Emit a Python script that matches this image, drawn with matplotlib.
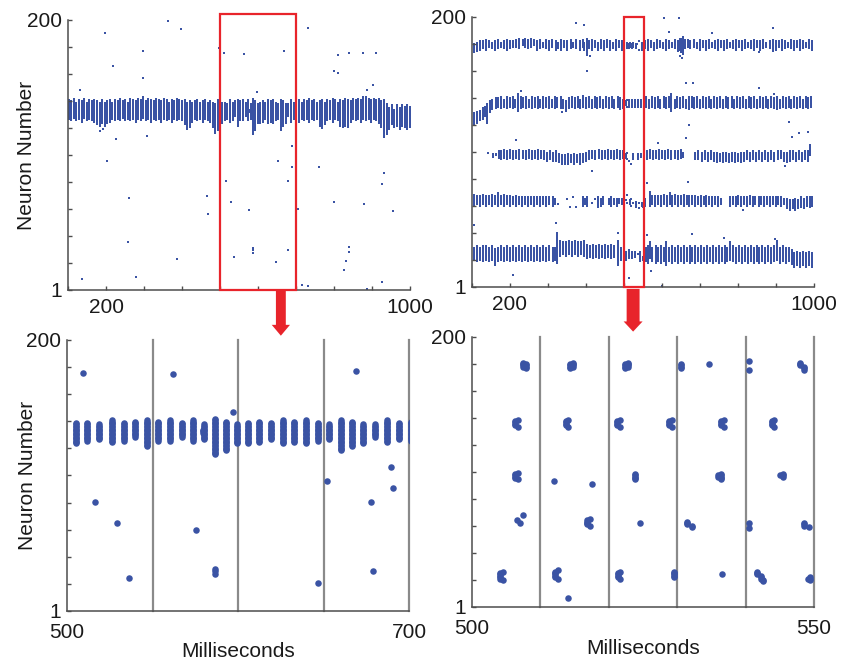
import numpy as np
import matplotlib.pyplot as plt
from matplotlib.patches import Rectangle, FancyArrow

plt.rcParams['font.family'] = ['Liberation Sans', 'DejaVu Sans']

BLUE = '#3a53a4'
RED = '#e8242b'
AXIS = '#4d4d4d'
GRID = '#8a8a8a'

# left network: population bursts (time ms, lowest neuron, highest neuron)
left_bursts = [
    (101.5, 127, 141), (108.3, 126, 140), (115.0, 128, 142), (121.9, 126, 139), (128.6, 127, 141),
    (135.6, 125, 140), (142.3, 128, 142), (149.0, 126, 139), (155.9, 127, 141), (162.5, 126, 140),
    (169.4, 125, 141), (176.0, 123, 140), (182.9, 122, 139), (189.8, 124, 141), (196.4, 122, 139),
    (203.3, 124, 140), (210.0, 125, 141), (216.9, 127, 139), (223.5, 126, 141), (230.4, 127, 140),
    (237.0, 126, 142), (243.9, 128, 140), (250.7, 126, 141), (257.4, 127, 139), (264.2, 126, 142),
    (271.0, 127, 141), (277.8, 125, 140), (284.5, 127, 142), (291.4, 126, 141), (298.1, 128, 143),
    (305.0, 126, 140), (311.7, 127, 142), (318.5, 125, 141), (325.3, 127, 140), (332.0, 126, 142),
    (338.9, 127, 141), (345.6, 125, 140), (352.4, 127, 142), (359.1, 126, 141), (366.0, 127, 139),
    (372.7, 125, 141), (379.5, 127, 140), (386.2, 126, 142), (393.1, 127, 141), (399.8, 126, 140),
    (406.6, 123, 141), (413.4, 120, 139), (420.1, 121, 140), (427.0, 125, 139), (433.7, 127, 140),
    (440.5, 126, 141), (447.2, 127, 139), (454.1, 125, 140), (460.8, 127, 141), (467.6, 126, 139),
    (474.5, 125, 140), (481.2, 121, 139), (488.0, 118, 138), (494.8, 119, 141),
    (505.1, 124, 139), (511.9, 126, 139), (518.9, 127, 138), (526.1, 125, 141), (533.2, 126, 139),
    (539.8, 129, 140), (546.6, 122, 141), (553.4, 126, 140), (560.2, 126, 141), (567.1, 129, 139),
    (573.9, 126, 141), (579.3, 132, 134), (580.3, 127, 138), (586.5, 116, 142), (593.0, 119, 140),
    (599.2, 124, 138), (606.0, 124, 139), (612.5, 125, 140), (619.3, 127, 139), (626.5, 124, 141),
    (632.9, 125, 140), (639.8, 124, 141), (646.6, 126, 139), (653.4, 127, 138), (660.2, 119, 141),
    (666.8, 122, 140), (673.3, 124, 138), (680.1, 129, 138), (687.3, 125, 141), (694.2, 127, 139),
    (701.0, 126, 140), (707.8, 125, 141), (714.5, 127, 139), (721.4, 126, 141), (728.1, 127, 140),
    (735.0, 125, 142), (741.7, 127, 140), (748.5, 126, 141), (755.3, 127, 139), (762.0, 122, 140),
    (768.9, 121, 141), (775.6, 123, 139), (782.4, 126, 141), (789.2, 127, 140), (796.0, 125, 142),
    (802.7, 127, 141), (809.5, 126, 139), (816.4, 122, 141), (823.1, 121, 140), (829.9, 122, 142),
    (836.7, 121, 141), (843.4, 125, 140), (850.2, 127, 142), (857.0, 126, 141), (863.8, 127, 142),
    (870.5, 125, 141), (877.3, 127, 143), (884.1, 126, 143), (890.9, 127, 142), (897.6, 125, 141),
    (904.4, 127, 142), (911.2, 126, 141), (918.0, 124, 142), (924.8, 121, 140), (931.5, 114, 141),
    (938.3, 116, 138), (945.1, 120, 135), (951.9, 123, 137), (958.6, 121, 134), (965.4, 122, 137),
    (972.2, 120, 135), (979.0, 122, 137), (985.8, 121, 136), (992.5, 120, 137), (998.8, 121, 136),
]

# left network: isolated spikes (time ms, neuron)
left_spikes = [
    (130.7, 148.4), (136, 8.8), (183.4, 118.4), (192.2, 119.4), (197, 190.2), (203.6, 96.3),
    (218.5, 166.3), (225.5, 112.5), (258, 36.6), (259.8, 68.6), (280, 10.8), (297.5, 177),
    (297.5, 157), (307, 114.5), (363, 199), (388, 23.8), (398.5, 193), (464.4, 70.5),
    (468.7, 56.8), (486.3, 116.5), (497.7, 179.6),
    (509.5, 175.5), (516.4, 81.1), (529.1, 65.7), (536.3, 25.5), (562.2, 174.8), (575.3, 60.3),
    (586.5, 32.1), (586.5, 30.2), (586.5, 28.4), (596.9, 146.8), (647, 21.6), (651.9, 96.1),
    (669, 177.5), (677.6, 81.1), (679.2, 30.4), (689.5, 106.9), (690.5, 91.4),
    (704, 60.4), (714.6, 4.7), (730.4, 194), (730.4, 4), (761, 91.4), (769, 120.4),
    (799.7, 65.8), (800.6, 162.4), (809.4, 161.2), (811, 174.2), (826, 15.7), (831.3, 22.6),
    (839.3, 33), (839.3, 28.8), (839.3, 175.4), (877, 175.4), (878.8, 64.4), (887.5, 148.4),
    (887.5, 2), (903.4, 152), (909.5, 175.4), (925.3, 79), (925.3, 7), (931.4, 87), (956, 59.5),
]

# right network: five groups that fire one after the other
right_group1 = [
    (98, 173, 179), (106, 174, 180), (113, 175, 181), (121, 176, 182), (129, 177, 182),
    (137, 176, 183), (145, 178, 182), (152, 177, 181), (160, 176, 182), (168, 177, 183),
    (177, 178, 181), (184, 177, 182), (192, 176, 183), (200, 177, 182), (209, 178, 182),
    (216, 178, 183), (224, 177, 184), (233, 179, 183), (240, 178, 184), (248, 177, 183),
    (256, 178, 184), (264, 179, 183), (272, 176, 182), (279, 177, 183), (287, 178, 181),
    (296, 177, 183), (303, 176, 182), (311, 178, 183), (320, 176, 182), (327, 177, 181),
    (335, 176, 183), (343, 178, 182), (351, 176, 182), (360, 177, 183), (367, 178, 181),
    (375, 177, 183), (384, 176, 182), (391, 178, 183), (396, 176, 181), (402, 172, 184),
    (408, 177, 182), (416, 176, 183), (424, 178, 182), (431, 176, 181), (439, 177, 183),
    (448, 176, 182), (455, 178, 183), (463, 176, 182), (471, 177, 181), (479, 176, 183),
    (487, 178, 182), (494, 176, 182),
    (507.4, 178, 181), (507.9, 177, 180), (514.3, 177, 180), (514.7, 178, 181), (522.4, 177, 180),
    (522.8, 178, 181), (530.6, 177, 180), (534.6, 180, 180), (540.5, 182, 182), (540.5, 176, 176),
    (547.9, 179, 181), (548.6, 176, 178),
    (556, 177, 182), (564, 176, 183), (571, 178, 182), (579, 176, 181), (587, 177, 183),
    (595, 178, 182), (603, 177, 181), (611, 176, 183), (619, 177, 182), (627, 178, 181),
    (635, 177, 183), (641, 175, 182), (647, 176, 184), (651, 174, 184), (655, 173, 185),
    (661, 177, 183), (668, 178, 183), (675, 177, 182), (683, 178, 183), (691, 177, 181),
    (699, 176, 183), (707, 178, 182), (715, 176, 182), (723, 177, 183), (731, 178, 181),
    (739, 177, 182), (747, 176, 183), (755, 178, 182), (763, 176, 182), (771, 177, 183),
    (779, 178, 181), (787, 177, 182), (795, 176, 183), (803, 178, 182), (811, 176, 182),
    (819, 177, 183), (827, 178, 181), (835, 177, 182), (843, 176, 183), (851, 178, 182),
    (859, 176, 182), (867, 177, 183), (875, 178, 181), (883, 177, 182), (891, 175, 183),
    (899, 176, 182), (907, 178, 182), (915, 176, 183), (923, 177, 182), (931, 178, 181),
    (939, 177, 183), (947, 176, 182), (955, 178, 182), (963, 176, 183), (971, 177, 182),
    (979, 178, 181), (987, 177, 183), (995, 176, 182),
]
right_group2 = [
    (98, 120, 127), (105, 121, 129), (113, 122, 130), (120, 124, 131), (128, 125, 133),
    (135, 127, 134), (140, 122, 136), (147, 130, 138), (154, 132, 139), (162, 133, 140),
    (169, 134, 140), (177, 133, 141), (184, 134, 139), (192, 133, 141), (199, 134, 140),
    (207, 133, 141), (214, 134, 139), (220, 131, 143), (228, 133, 141), (235, 134, 140),
    (243, 133, 141), (250, 134, 139), (258, 133, 141), (265, 134, 140), (273, 133, 141),
    (280, 134, 139), (288, 133, 141), (295, 134, 140), (303, 133, 141), (310, 134, 139),
    (318, 133, 141), (325, 134, 140), (333, 133, 141), (340, 133, 139), (348, 131, 138),
    (355, 133, 140), (363, 134, 141), (370, 133, 140), (378, 134, 141), (385, 133, 139),
    (393, 134, 142), (400, 133, 140), (408, 134, 141), (415, 133, 139), (423, 134, 141),
    (430, 133, 140), (438, 134, 141), (445, 133, 139), (453, 134, 141), (460, 133, 140),
    (468, 134, 141), (475, 133, 139), (483, 134, 141), (490, 132, 140), (498, 133, 139),
    (506.3, 135, 138), (506.7, 134, 134), (506.7, 139, 139), (513.7, 135, 138), (514.1, 134, 134),
    (514.1, 139, 139), (521.2, 135, 138), (521.6, 134, 134), (521.6, 139, 139), (528.8, 135, 138),
    (529.2, 134, 134), (529.2, 139, 139), (536.4, 135, 138), (536.8, 134, 134), (536.8, 139, 139),
    (543.8, 135, 138), (544.2, 134, 134), (544.2, 139, 139),
    (552, 133, 140), (559, 134, 141), (566, 133, 139), (574, 134, 141), (581, 133, 140),
    (589, 134, 141), (596, 133, 139), (604, 134, 141), (611, 133, 140), (619, 134, 141),
    (625, 131, 143), (633, 133, 139), (640, 134, 141), (648, 133, 140), (655, 134, 141),
    (663, 133, 139), (670, 132, 141), (678, 134, 141), (685, 133, 140), (693, 134, 141),
    (700, 133, 139), (708, 134, 141), (715, 133, 140), (723, 134, 141), (730, 133, 139),
    (738, 134, 141), (745, 133, 140), (753, 134, 141), (760, 133, 139), (768, 134, 141),
    (775, 133, 140), (783, 134, 141), (790, 133, 139), (798, 134, 141), (805, 133, 140),
    (813, 134, 141), (820, 133, 139), (828, 134, 141), (835, 133, 140), (843, 134, 141),
    (850, 133, 139), (858, 134, 141), (865, 133, 140), (873, 134, 141), (880, 133, 139),
    (888, 134, 141), (895, 133, 140), (903, 132, 141), (910, 133, 139), (918, 134, 141),
    (925, 133, 140), (933, 134, 141), (940, 133, 139), (948, 134, 141), (955, 133, 140),
    (963, 134, 141), (970, 133, 139), (978, 134, 141), (985, 133, 140), (993, 134, 141),
]
right_group3 = [
    (156, 97, 99), (163, 98, 99), (170, 96, 101), (177, 95, 101), (185, 96, 102),
    (193, 95, 101), (201, 96, 102), (209, 95, 101), (217, 96, 101), (225, 95, 102),
    (233, 96, 101), (241, 95, 101), (249, 96, 102), (257, 95, 101), (265, 96, 101),
    (273, 95, 102), (281, 96, 101), (289, 95, 101), (297, 94, 100), (305, 95, 101),
    (313, 94, 100), (321, 94, 101), (329, 93, 99), (337, 92, 98), (345, 92, 98),
    (353, 92, 99), (361, 93, 98), (369, 92, 99), (377, 93, 98), (385, 92, 99),
    (393, 93, 99), (401, 94, 100), (409, 95, 101), (417, 96, 101), (425, 95, 101),
    (433, 96, 102), (441, 95, 101), (449, 96, 101), (457, 95, 102), (465, 96, 101),
    (473, 95, 101), (481, 96, 102), (489, 95, 101), (497, 96, 101),
    (506.3, 96, 99), (506.7, 95, 95), (506.7, 100, 100), (512.0, 94, 94), (517.6, 92, 92),
    (523.8, 95, 99), (536.4, 95, 99), (536.0, 97, 98), (545.4, 97, 99), (545.1, 98, 98),
    (553, 96, 101), (561, 95, 101), (569, 96, 102), (577, 95, 101), (585, 96, 101),
    (593, 95, 102), (601, 96, 101), (609, 95, 101), (617, 96, 102), (625, 95, 101),
    (633, 96, 101), (641, 95, 101), (649, 96, 102), (656, 97, 100),
    (688, 95, 100), (696, 95, 101), (704, 94, 100), (712, 95, 101), (720, 94, 100),
    (728, 95, 101), (736, 94, 100), (744, 93, 100), (752, 94, 99), (760, 93, 100),
    (768, 94, 100), (776, 93, 99), (784, 94, 100), (792, 93, 100), (800, 94, 99),
    (808, 93, 100), (816, 94, 100), (824, 95, 101), (832, 94, 100), (840, 95, 101),
    (848, 94, 100), (856, 95, 101), (864, 94, 100), (872, 95, 101), (880, 94, 100),
    (888, 95, 101), (896, 94, 100), (904, 95, 101), (912, 96, 101), (920, 94, 100),
    (928, 93, 100), (936, 94, 101), (944, 95, 101), (952, 94, 100), (960, 95, 101),
    (968, 94, 100), (976, 95, 101), (983, 94, 101), (990, 98, 106),
]
right_group4 = [
    (98, 62, 68), (105, 61, 69), (113, 62, 68), (121, 61, 68), (129, 62, 69),
    (137, 61, 68), (145, 62, 68), (152, 61, 69), (160, 62, 68), (168, 61, 70),
    (176, 62, 68), (184, 61, 69), (192, 62, 68), (200, 61, 68), (208, 62, 67),
    (216, 61, 68), (224, 62, 67), (232, 61, 67), (240, 62, 67), (248, 61, 67),
    (256, 62, 67), (264, 61, 67), (272, 62, 67), (280, 61, 67), (288, 62, 67),
    (296, 61, 67), (304, 62, 67), (312, 61, 67), (318, 62, 66),
    (327, 62, 62), (349, 66, 66), (358, 60, 60), (365, 67, 67), (374, 60, 60),
    (391, 61, 67), (397, 62, 66), (403, 61, 67), (415, 63, 63), (424, 66, 66),
    (432, 60, 67), (439, 61, 66), (446, 62, 67), (461, 62, 66), (467, 61, 67),
    (474, 62, 66), (481, 61, 66), (488, 63, 66), (495, 62, 66),
    (506.6, 65, 65), (507.0, 63, 63), (507.5, 69, 69), (516.8, 62, 65), (517.2, 61, 61),
    (517.2, 66, 66), (524.6, 63, 63), (531.5, 62, 64), (532.2, 60, 61), (540.5, 63, 63),
    (540.5, 59, 59), (548.5, 61, 63), (549.2, 60, 60),
    (556, 61, 66), (568, 61, 71), (575, 62, 68), (582, 61, 68), (590, 62, 68),
    (597, 61, 68), (605, 62, 69), (612, 61, 68), (620, 62, 70), (627, 61, 68),
    (635, 62, 69), (642, 61, 68), (650, 62, 68), (657, 61, 69), (665, 62, 68),
    (672, 61, 68), (680, 62, 68), (687, 61, 68), (695, 62, 67), (702, 61, 68),
    (710, 62, 67), (717, 61, 68), (725, 62, 67), (732, 61, 67), (740, 62, 67),
    (747, 61, 67), (755, 62, 66), (779, 61, 67), (786, 62, 67), (794, 61, 67),
    (801, 62, 68), (809, 61, 67), (816, 62, 67), (824, 61, 67), (831, 62, 68),
    (839, 61, 67), (846, 62, 67), (854, 61, 67), (861, 62, 67), (869, 61, 67),
    (876, 62, 67), (884, 61, 67), (891, 62, 67), (899, 61, 67), (906, 62, 67),
    (914, 61, 67), (921, 62, 66), (929, 59, 66), (936, 58, 65), (944, 59, 65),
    (951, 58, 66), (959, 59, 65), (966, 60, 67), (974, 59, 66), (981, 61, 67),
    (989, 60, 67), (996, 61, 67),
]
right_group5 = [
    (98, 20, 31), (106, 21, 30), (113, 20, 31), (121, 21, 30), (129, 20, 31),
    (137, 21, 31), (145, 20, 30), (152, 21, 31), (160, 17, 29), (168, 20, 30),
    (176, 21, 31), (184, 20, 30), (192, 21, 31), (200, 20, 30), (208, 21, 31),
    (216, 20, 30), (224, 21, 31), (232, 20, 30), (240, 21, 31), (248, 20, 30),
    (256, 21, 31), (264, 20, 30), (272, 21, 31), (280, 20, 30), (288, 21, 31),
    (296, 20, 30), (304, 21, 31), (312, 20, 30), (318, 21, 30), (325, 19, 41),
    (331, 24, 35), (339, 25, 34), (347, 24, 34), (355, 25, 35), (363, 24, 34),
    (371, 25, 35), (379, 24, 34), (387, 25, 34), (395, 24, 35), (403, 22, 32),
    (411, 23, 31), (419, 22, 32), (427, 23, 31), (435, 22, 32), (443, 23, 31),
    (451, 22, 32), (459, 23, 31), (467, 22, 32), (475, 23, 31), (485, 17, 35),
    (492, 21, 30),
    (504.1, 22, 26), (504.5, 21, 21), (504.5, 27, 27), (512.2, 23, 27), (512.6, 22, 22),
    (512.6, 28, 28), (521.4, 23, 26), (521.7, 22, 22), (521.7, 27, 27), (529.6, 23, 27),
    (536.6, 25, 25), (541.7, 25, 27), (542.2, 22, 24), (542.6, 20, 21), (549.4, 21, 23),
    (549.1, 22, 22),
    (557, 20, 30), (562, 19, 31), (568, 22, 34), (575, 20, 30), (583, 19, 31),
    (590, 20, 30), (598, 19, 31), (605, 20, 30), (611, 17, 34), (619, 20, 30),
    (627, 19, 31), (634, 20, 30), (642, 19, 31), (650, 20, 30), (657, 19, 31),
    (665, 20, 30), (673, 19, 31), (680, 20, 30), (688, 19, 31), (696, 20, 30),
    (703, 19, 31), (711, 20, 30), (719, 19, 31), (726, 20, 30), (734, 19, 31),
    (742, 20, 30), (749, 19, 31), (757, 20, 30), (765, 19, 31), (772, 20, 30),
    (780, 21, 34), (787, 20, 31), (795, 19, 30), (803, 20, 31), (810, 19, 30),
    (818, 20, 31), (826, 19, 30), (833, 20, 31), (841, 19, 30), (849, 20, 31),
    (856, 19, 30), (864, 20, 31), (872, 19, 30), (879, 20, 31), (887, 19, 30),
    (895, 20, 31), (902, 21, 35), (910, 19, 30), (918, 20, 31), (925, 19, 30),
    (933, 20, 30), (941, 18, 28), (948, 16, 26), (956, 17, 27), (964, 16, 26),
    (971, 17, 27), (979, 16, 26), (987, 17, 27), (995, 16, 26),
]
right_spikes = [
    (105.3, 46.7), (143, 100), (207, 10), (215.8, 109), (230, 145.5), (321, 48), (338, 130),
    (373.7, 195.3), (394.8, 194.1), (403.5, 160.3), (410.5, 171.5), (415, 86.5), (483.4, 41),
    (514.1, 7.4), (559.7, 78), (559.7, 39.3), (570, 12.8), (590.4, 107.4), (600.8, 2),
    (605, 199.5), (619.4, 189.2), (645.6, 199), (647.5, 171.5), (652.7, 169.5), (662.4, 151.6),
    (662.4, 110.6), (671, 120.2), (669.3, 78.7), (678, 39.8), (682.5, 151.6), (730.8, 188),
    (763.6, 36.9), (812.4, 57.8), (855.4, 174.4), (855.4, 147.4), (893, 192), (896, 143),
    (897.5, 36.2), (924, 90.4), (934.4, 122.9), (943, 111.8), (961.5, 114.3), (983.5, 115.5),
]

# zoom windows and the cycle marks drawn in them
left_window = (500, 700)
right_window = (500, 552)
left_marks = [550, 600, 650, 700]
right_marks = [510, 520, 530, 540, 550]


def to_points(bursts, singles):
    t, n = [], []
    for bt, lo, hi in bursts:
        for k in range(lo, hi + 1):
            t.append(bt)
            n.append(k)
    for st, sn in singles:
        t.append(st)
        n.append(sn)
    return np.array(t), np.array(n)


left_t, left_n = to_points(left_bursts, left_spikes)
right_t, right_n = to_points(
    right_group1 + right_group2 + right_group3 + right_group4 + right_group5, right_spikes)


def style(ax, xlim, xticks, xlabels, xtick_len, xpad):
    for s in ['top', 'right']:
        ax.spines[s].set_visible(False)
    for s in ['left', 'bottom']:
        ax.spines[s].set_color(AXIS)
        ax.spines[s].set_linewidth(1.1)
    ax.set_xlim(*xlim)
    ax.set_ylim(1, 200)
    yt = np.linspace(1, 200, 11)
    ax.set_yticks(yt)
    ax.set_yticklabels(['1'] + [''] * 9 + ['200'])
    ax.set_xticks(xticks)
    ax.set_xticklabels(xlabels)
    ax.tick_params(axis='y', direction='in', length=3, width=1, color=AXIS,
                   labelsize=15, pad=4, labelcolor='#1a1a1a')
    ax.tick_params(axis='x', direction='in', length=xtick_len, width=1, color=AXIS,
                   labelsize=15, pad=xpad, labelcolor='#1a1a1a')


fig = plt.figure(figsize=(8.41, 6.66), dpi=100)
ax_tl = fig.add_axes([0.0809, 0.5646, 0.4067, 0.4054])
ax_tr = fig.add_axes([0.5612, 0.5691, 0.4067, 0.4054])
ax_bl = fig.add_axes([0.0797, 0.0826, 0.4067, 0.4069])
ax_br = fig.add_axes([0.5612, 0.0886, 0.4067, 0.4054])

full_ticks = list(range(100, 1001, 100))
full_labels = ['', '200'] + [''] * 7 + ['1000']

# overview rasters
ax_tl.scatter(left_t, left_n, s=4.2, marker='s', color=BLUE, linewidths=0)
ax_tr.scatter(right_t, right_n, s=2.6, marker='s', color=BLUE, linewidths=0)

# zoomed rasters
for x in left_marks:
    ax_bl.axvline(x, color=GRID, lw=1.6, zorder=1, clip_on=False)
for x in right_marks:
    ax_br.axvline(x, color=GRID, lw=1.6, zorder=1, clip_on=False)
ax_bl.scatter(left_t, left_n, s=22, color=BLUE, linewidths=0, zorder=2)
ax_br.scatter(right_t, right_n, s=22, color=BLUE, linewidths=0, zorder=2)

# red boxes and arrows showing the zoomed window
ax_tl.add_patch(Rectangle((left_window[0], 1), left_window[1] - left_window[0], 203.5,
                          fill=False, ec=RED, lw=1.6, clip_on=False, zorder=5))
ax_tr.add_patch(Rectangle((right_window[0], 1), right_window[1] - right_window[0], 199,
                          fill=False, ec=RED, lw=1.6, clip_on=False, zorder=5))
ax_tl.add_patch(FancyArrow(660, 0.3, 0, -33, width=26, head_width=48, head_length=8,
                           length_includes_head=True, color=RED, lw=0, clip_on=False))
ax_tr.add_patch(FancyArrow(524, -0.4, 0, -31.5, width=34, head_width=50, head_length=7.5,
                           length_includes_head=True, color=RED, lw=0, clip_on=False))

style(ax_tl, (100, 1000), full_ticks, full_labels, 3, 6)
style(ax_tr, (100, 1000), full_ticks, full_labels, 3, 6)
style(ax_bl, left_window, [500, 700], ['500', '700'], 0, 9)
style(ax_br, (500, 550), [500, 550], ['500', '550'], 0, 9)

ax_tl.set_ylabel('Neuron Number', fontsize=15, color='#1a1a1a')
ax_tl.yaxis.set_label_coords(-0.095, 0.5)
ax_bl.set_ylabel('Neuron Number', fontsize=15, color='#1a1a1a')
ax_bl.yaxis.set_label_coords(-0.088, 0.5)
ax_bl.set_xlabel('Milliseconds', fontsize=15, color='#1a1a1a')
ax_bl.xaxis.set_label_coords(0.5, -0.115)
ax_br.set_xlabel('Milliseconds', fontsize=15, color='#1a1a1a')
ax_br.xaxis.set_label_coords(0.5, -0.12)

fig.savefig('out.png', dpi=100)
